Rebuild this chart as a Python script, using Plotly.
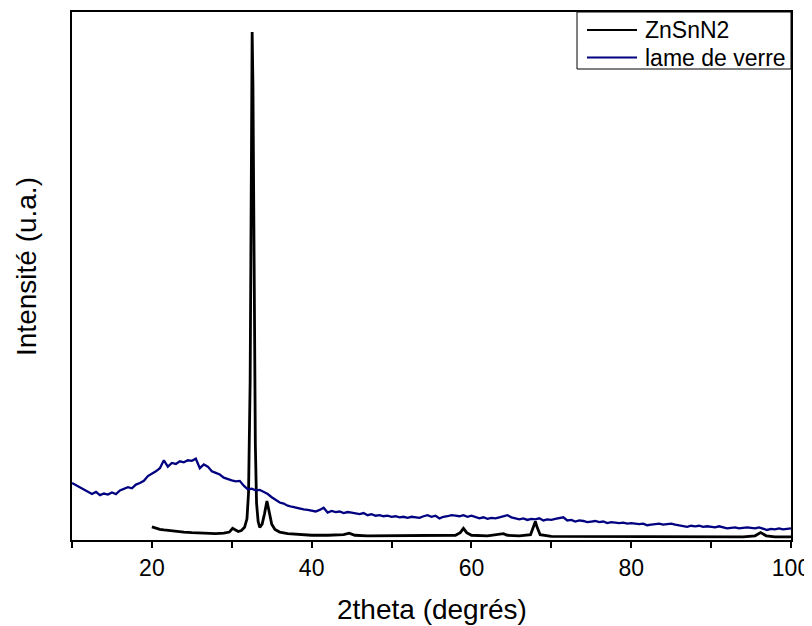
import plotly.graph_objects as go

# ---- data (intensity in arbitrary units) ----
glass_start, glass_step = 10.0, 0.5
glass_intensity = [
    108, 104, 99, 96, 92, 87, 91, 85, 88, 86, 90, 87, 94, 97, 100, 98, 105, 108, 112, 121,
    125, 130, 136, 151, 139, 146, 144, 149, 147, 151, 150, 154, 136, 143, 139, 130, 127, 124, 118, 115,
    113, 111, 112, 103, 96, 97, 94, 95, 91, 87, 81, 76, 71, 69, 65, 63, 61, 60, 58, 57,
    55, 54, 57, 61, 52, 55, 53, 54, 51, 53, 52, 50, 49, 51, 47, 49, 46, 47, 45, 46,
    44, 45, 43, 44, 42, 44, 43, 42, 45, 47, 44, 46, 41, 44, 45, 47, 46, 45, 47, 44,
    46, 43, 41, 43, 40, 42, 41, 43, 45, 47, 43, 41, 39, 41, 38, 40, 39, 41, 37, 39,
    38, 40, 41, 43, 37, 38, 35, 37, 36, 34, 35, 36, 34, 35, 32, 34, 33, 32, 33, 31,
    32, 31, 30, 31, 28, 29, 30, 31, 29, 30, 31, 29, 28, 27, 25, 27, 26, 27, 25, 26,
    25, 24, 26, 24, 22, 23, 24, 22, 23, 24, 23, 22, 24, 21, 19, 21, 20, 22, 20, 21,
    22,
]
glass_2theta = [glass_start + glass_step * i for i in range(len(glass_intensity))]

znsnn2_2theta = [
    20.0, 20.5, 21.0, 21.5, 22.0, 22.5, 23.0, 24.0, 25.0, 26.0, 27.0, 28.0, 29.0, 29.7,
    30.1, 30.4, 30.8, 31.2, 31.6, 31.9, 32.1, 32.3, 32.45, 32.55, 32.65, 32.8, 32.95,
    33.1, 33.3, 33.5, 33.8, 34.1, 34.4, 34.7, 35.0, 35.4, 36.0, 37.0, 38.0, 39.0, 40.0,
    42.0, 44.0, 44.7, 45.4, 47.0, 50.0, 53.0, 56.0, 58.0, 58.6, 59.0, 59.4, 60.0, 62.0,
    63.5, 64.0, 64.5, 66.0, 67.4, 67.8, 68.0, 68.2, 68.6, 70.0, 73.0, 76.0, 79.0, 82.0,
    85.0, 88.0, 91.0, 94.0, 95.5, 96.2, 96.9, 98.0, 100.0,
]
znsnn2_intensity = [
    25, 22, 20, 19, 18, 17, 17, 15, 14, 13, 13, 12, 13, 15,
    22, 20, 16, 18, 24, 40, 90, 300, 700, 962, 860, 450, 180,
    70, 35, 24, 30, 50, 74, 52, 30, 20, 15, 12, 11, 10, 9,
    9, 10, 13, 9, 8, 8, 8, 8, 9, 14, 22, 14, 9, 8,
    10, 12, 9, 8, 10, 25, 35, 25, 10, 7, 7, 7, 6, 6,
    6, 6, 6, 6, 8, 14, 8, 6, 6,
]

series_names = ["ZnSnN2", "lame de verre"]
series_colors = ["#000000", "#000080"]

x_tick_vals = [20, 40, 60, 80, 100]
x_tick_text = ["20", "40", "60", "80", "100"]
x_minor_vals = [10, 30, 50, 70, 90]

FONT = "Arial, Liberation Sans, sans-serif"

fig = go.Figure()
fig.add_trace(go.Scatter(
    x=znsnn2_2theta, y=znsnn2_intensity, mode="lines", name=series_names[0],
    line=dict(color=series_colors[0], width=2.8),
))
fig.add_trace(go.Scatter(
    x=glass_2theta, y=glass_intensity, mode="lines", name=series_names[1],
    line=dict(color=series_colors[1], width=2.3),
))

# plot area in screen pixels: x 72..791, y 12..540 (page body has an 8px margin)
PW, PH = 719.0, 528.0
def px(x):
    return (x - 72) / PW
def py(y):
    return (540 - y) / PH

shapes = [
    dict(type="rect", xref="paper", yref="paper", x0=px(577), x1=1.0, y0=py(69), y1=1.0,
         line=dict(color="black", width=1), fillcolor="white", layer="above"),
]
annotations = []
for i, (name, col) in enumerate(zip(series_names, series_colors)):
    yc = py(30 + 27.5 * i)
    shapes.append(dict(type="line", xref="paper", yref="paper", x0=px(587), x1=px(637),
                       y0=yc, y1=yc, line=dict(color=col, width=2.2), layer="above"))
    annotations.append(dict(text=name, xref="paper", yref="paper", x=px(643), y=yc,
                            xanchor="left", yanchor="middle", showarrow=False,
                            font=dict(family=FONT, size=23, color="black")))

annotations.append(dict(text="2theta (degrés)", xref="paper", yref="paper", x=0.5, y=py(609),
                        xanchor="center", yanchor="middle", showarrow=False,
                        font=dict(family=FONT, size=28, color="black")))
annotations.append(dict(text="Intensité (u.a.)", xref="paper", yref="paper", x=px(26), y=py(267),
                        xanchor="center", yanchor="middle", showarrow=False, textangle=-90,
                        font=dict(family=FONT, size=28, color="black")))

fig.update_layout(
    width=804, height=618,
    margin=dict(l=64, r=21, t=4, b=86, autoexpand=False),
    paper_bgcolor="white", plot_bgcolor="white",
    font=dict(family=FONT, color="black"),
    showlegend=False,
    shapes=shapes,
    annotations=annotations,
    xaxis=dict(
        range=[10, 100], showgrid=False, zeroline=False, automargin=False,
        showline=True, linecolor="black", linewidth=2, mirror=True,
        ticks="outside", tickvals=x_tick_vals, ticktext=x_tick_text,
        ticklen=6, tickwidth=2, tickcolor="black",
        minor=dict(ticks="outside", tickvals=x_minor_vals, ticklen=6,
                   tickwidth=2, tickcolor="black", showgrid=False),
        tickfont=dict(family=FONT, size=23, color="black"),
    ),
    yaxis=dict(
        range=[0, 1000], showgrid=False, zeroline=False, automargin=False,
        showline=True, linecolor="black", linewidth=2, mirror=True,
        ticks="", showticklabels=False,
    ),
)

fig.write_html("out.html")
